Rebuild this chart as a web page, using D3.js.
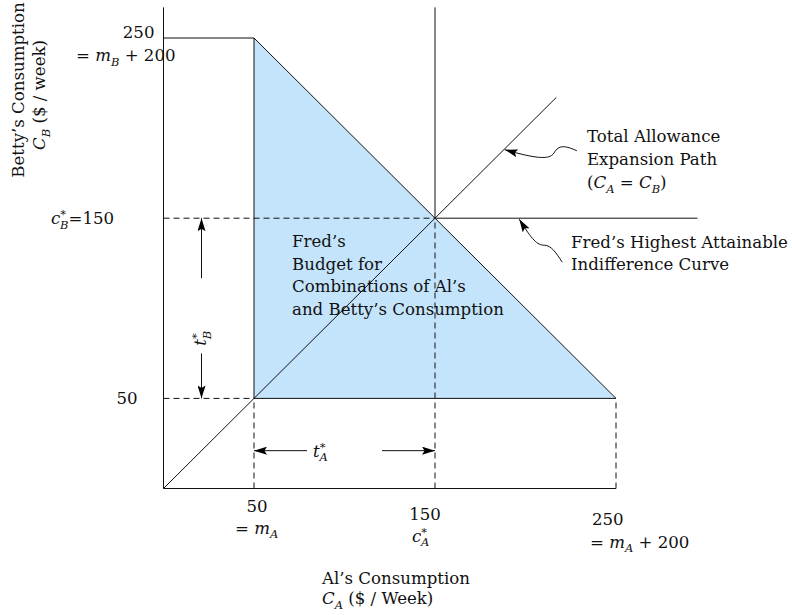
<!DOCTYPE html>
<html><head><meta charset="utf-8">
<script src="https://cdn.jsdelivr.net/npm/d3@7"></script>
<style>
body{margin:0;background:#fff}
svg{display:block}
text{font-family:"DejaVu Serif",serif;font-size:16.6px;fill:#111;white-space:pre}
</style>
</head><body>
<svg id="c" width="793" height="615"></svg>
<script>
// ---- data ----
const xTicks = [50, 150, 250];
const yTicks = [50, 150, 250];
const budgetPoly = [[50, 50], [50, 250], [250, 50]];
const mA = 50, mB = 50, cA = 150, cB = 150, maxA = 250, maxB = 250;
const axisTop = 267;      // top of y axis / vertical c*A line
const diagEnd = 217;      // end of expansion path C_A = C_B
const icEnd = 295;        // end of highest indifference curve
const tBx = 21;           // x position (value) of t*_B arrows
const tAy = 21;           // y position (value) of t*_A arrows
const expTip = 188;       // where leader arrow hits the expansion path
const icTip = 196;        // where leader arrow hits the indifference curve

const svg = d3.select("#c");
const x = d3.scaleLinear().domain([0, 250]).range([163.5, 616]);
const y = d3.scaleLinear().domain([0, 250]).range([488.5, 38]);

const defs = svg.append("defs");
defs.append("marker").attr("id", "ah")
  .attr("viewBox", "0 0 13 8").attr("refX", 13).attr("refY", 4)
  .attr("markerWidth", 13).attr("markerHeight", 8)
  .attr("markerUnits", "userSpaceOnUse").attr("orient", "auto")
  .append("path").attr("d", "M0,0 L13,4 L0,8 L2.5,4 Z").attr("fill", "#000");

const ink = "#111";
const line = (x1, y1, x2, y2, dashed) => svg.append("line")
  .attr("x1", x1).attr("y1", y1).attr("x2", x2).attr("y2", y2)
  .attr("stroke", ink).attr("stroke-width", 1)
  .attr("stroke-dasharray", dashed ? "6,4" : null);

// budget region
svg.append("path")
  .attr("d", d3.line().x(d => x(d[0])).y(d => y(d[1]))(budgetPoly) + "Z")
  .attr("fill", "#c4e4fb").attr("stroke", ink).attr("stroke-width", 1);

// axes
line(x(0), y(0), x(0), y(axisTop));
line(x(0), y(0), x(maxA), y(0));

// top cap of budget (m_B + 200)
line(x(0), y(maxB), x(mA), y(maxB));

// dashed guides
line(x(0), y(mB), x(mA), y(mB), true);
line(x(0), y(cB), x(cA), y(cB), true);
line(x(mA), y(0), x(mA), y(mB), true);
line(x(cA), y(0), x(cA), y(cB), true);
line(x(maxA), y(0), x(maxA), y(mB), true);

// vertical solid line above c*_A
line(x(cA), y(cB), x(cA), y(axisTop));
// indifference curve (horizontal part)
line(x(cA), y(cB), x(icEnd), y(cB));
// expansion path
line(x(0), y(0), x(diagEnd), y(diagEnd));

// t* arrows
const arrow = (x1, y1, x2, y2) => line(x1, y1, x2, y2).attr("marker-end", "url(#ah)");
arrow(x(tBx), y(cB) + 60, x(tBx), y(cB));
arrow(x(tBx), y(mB) - 45, x(tBx), y(mB));
arrow(x(mA) + 53, y(tAy), x(mA), y(tAy));
arrow(x(cA) - 53, y(tAy), x(cA), y(tAy));

// leader curves
const t1 = [x(expTip), y(expTip)];
const rel = (p, pts) => pts.map(q => [p[0] + q[0], p[1] + q[1]]);
const P1 = rel(t1, [[73, 1], [64, -3], [56, -6], [51, 2], [47, 10], [36, 10], [1, 0]]);
svg.append("path")
  .attr("d", `M${P1[0]} C${P1[1]} ${P1[2]} ${P1[3]} C${P1[4]} ${P1[5]} ${P1[6]}`)
  .attr("fill", "none").attr("stroke", ink).attr("stroke-width", 1)
  .attr("marker-end", "url(#ah)");
const t2 = [x(icTip), y(cB)];
const P2 = rel(t2, [[44, 44], [38, 35], [33, 27], [26, 27], [19, 27], [14, 22], [1, 1]]);
svg.append("path")
  .attr("d", `M${P2[0]} C${P2[1]} ${P2[2]} ${P2[3]} C${P2[4]} ${P2[5]} ${P2[6]}`)
  .attr("fill", "none").attr("stroke", ink).attr("stroke-width", 1)
  .attr("marker-end", "url(#ah)");

// ---- text helper ----
function rich(sel, tx, ty, parts, anchor, rot) {
  const t = sel.append("text").attr("x", tx).attr("y", ty)
    .attr("text-anchor", anchor || "start").attr("xml:space", "preserve");
  if (rot) t.attr("transform", `rotate(${rot},${tx},${ty})`);
  let cur = 0;
  parts.forEach(p => {
    if (typeof p === "string") p = { t: p };
    const off = p.sub ? 4.5 : p.sup ? -6 : 0;
    const ts = t.append("tspan").text(p.t).attr("dy", off - cur);
    cur = off;
    if (p.it) ts.attr("font-style", "italic");
    if (p.sub || p.sup) ts.attr("font-size", "11.5px");
    if (p.dx) ts.attr("dx", p.dx);
  });
  return t;
}

// y tick labels
rich(svg, x(0) - 9, y(yTicks[2]), ["250"], "end");
rich(svg, 76, y(yTicks[2]) + 23, ["= ", { t: "m", it: 1 }, { t: "B", it: 1, sub: 1 }, " + 200"]);
rich(svg, 51, y(yTicks[1]) + 6, [{ t: "c", it: 1 }, { t: "*", sup: 1 }, { t: "B", it: 1, sub: 1, dx: -6 }, "=150"]);
rich(svg, x(0) - 26, y(yTicks[0]) + 6, ["50"], "end");

// x tick labels
rich(svg, x(xTicks[0]) + 3, y(0) + 23, ["50"], "middle");
rich(svg, x(xTicks[0]) - 19, y(0) + 45, ["= ", { t: "m", it: 1 }, { t: "A", it: 1, sub: 1 }]);
rich(svg, x(xTicks[1]) - 10, y(0) + 31, ["150"], "middle");
rich(svg, x(xTicks[1]) - 23, y(0) + 53, [{ t: "c", it: 1 }, { t: "*", sup: 1 }, { t: "A", it: 1, sub: 1, dx: -6 }]);
rich(svg, x(xTicks[2]) - 24, y(0) + 36, ["250"]);
rich(svg, x(xTicks[2]) - 26, y(0) + 59, ["= ", { t: "m", it: 1 }, { t: "A", it: 1, sub: 1 }, " + 200"]);

// axis titles
rich(svg, 322, 584, ["Al’s Consumption"]);
rich(svg, 322, 604, [{ t: "C", it: 1 }, { t: "A", it: 1, sub: 1 }, " ($ / Week)"]);
rich(svg, 24, 90, ["Betty’s Consumption"], "middle", -90);
rich(svg, 45, 95, [{ t: "C", it: 1 }, { t: "B", it: 1, sub: 1 }, " ($ / week)"], "middle", -90);

// t* labels
rich(svg, x(tBx) + 5, y(cB) + 120, [{ t: "t", it: 1 }, { t: "*", sup: 1 }, { t: "B", it: 1, sub: 1, dx: -6 }], "middle", -90);
rich(svg, x(mA) + 59, y(tAy) + 6, [{ t: "t", it: 1 }, { t: "*", sup: 1 }, { t: "A", it: 1, sub: 1, dx: -6 }]);

// budget label
["Fred’s", "Budget for", "Combinations of Al’s", "and Betty’s Consumption"].forEach((s, i) =>
  rich(svg, 292, 247 + i * 22.5, [s]));

// annotations
rich(svg, 587, 142, ["Total Allowance"]);
rich(svg, 587, 165, ["Expansion Path"]);
rich(svg, 587, 188, ["(", { t: "C", it: 1 }, { t: "A", it: 1, sub: 1 }, " = ", { t: "C", it: 1 }, { t: "B", it: 1, sub: 1 }, ")"]);
rich(svg, 571, 248, ["Fred’s Highest Attainable"]);
rich(svg, 571, 270, ["Indifference Curve"]);
</script>
</body></html>
